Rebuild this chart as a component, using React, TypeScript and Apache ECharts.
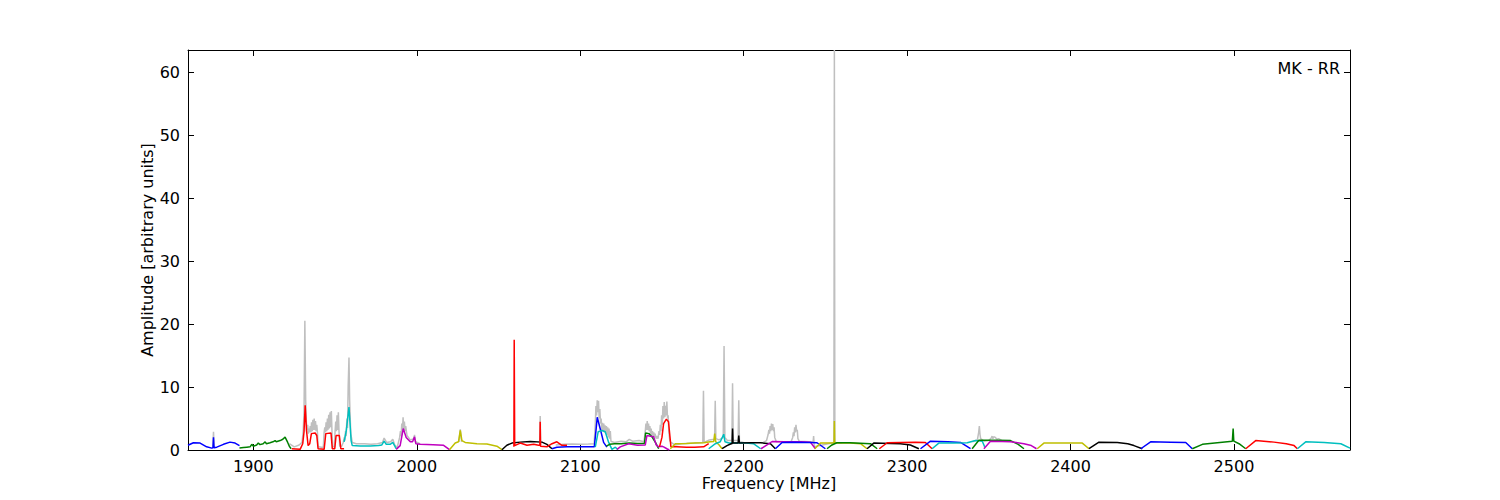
import React, { useEffect, useRef } from "react";
import * as echarts from "echarts";

// ---- data: [frequency MHz, amplitude] ----
const grayA = [[1875.2, 0.4], [1875.6, 2.9], [1876.0, 0.4]];
const grayB = [[1922, 1.0], [1925, 0.5], [1928, 0.8], [1929.8, 1.2], [1930.5, 3.0], [1931, 6], [1931.5, 20.5], [1932, 8], [1932.4, 4.5], [1932.8, 3.2], [1933.2, 4.0], [1933.6, 2.6], [1934, 3.4], [1934.4, 2.8], [1934.8, 3.8], [1935.2, 2.8], [1935.6, 4.4], [1936, 3.0], [1936.4, 4.8], [1936.8, 3.2], [1937.2, 5.0], [1937.6, 3.2], [1938, 4.6], [1938.4, 3.0], [1938.8, 4.0], [1939.2, 2.8], [1939.6, 0.5], [1942.8, 0.4], [1943.3, 2.8], [1943.7, 3.6], [1944.1, 2.8], [1944.5, 4.4], [1944.9, 3.0], [1945.3, 5.0], [1945.7, 3.2], [1946.1, 5.6], [1946.5, 3.4], [1946.9, 6.0], [1947.3, 3.6], [1947.7, 6.2], [1948.1, 3.0], [1948.5, 0.5], [1949.6, 0.5], [1950, 3.0], [1950.4, 4.5], [1950.8, 3.0], [1951.2, 5.5], [1951.6, 3.2], [1952, 6.0], [1952.4, 3.0], [1952.8, 0.6], [1954, 0.6], [1955, 1.2], [1955.6, 2.0], [1956, 1.5], [1956.4, 3.0], [1956.8, 2.2], [1957.2, 5], [1957.6, 3.5], [1958, 10], [1958.5, 14.7], [1958.9, 8], [1959.2, 5.5], [1959.6, 2.5], [1960, 2.0], [1960.5, 1.2], [1963, 1.0], [1968, 1.0], [1972, 0.9], [1976, 1.0], [1979, 1.2], [1980, 1.9], [1981.5, 1.2], [1984, 1.3], [1985.3, 1.7], [1986.5, 0.8], [1988, 0.4], [1989.5, 2.0], [1990, 3.0], [1990.4, 2.2], [1990.8, 4.2], [1991.2, 3.0], [1991.6, 5.2], [1992, 3.2], [1992.4, 4.5], [1992.8, 3.0], [1993.2, 3.8], [1994, 2.3], [1996, 1.6], [1998.2, 1.8], [1998.6, 2.4], [1999.2, 1.3], [2002, 1.0]];
const grayC = [[2025.8, 1.3], [2026.6, 3.3], [2027.4, 1.3]];
const grayD = [[2075.2, 0.8], [2075.5, 5.4], [2075.8, 0.8]];
const grayE = [[2085, 0.8], [2090, 0.9], [2095, 0.95], [2100, 0.9], [2105, 0.95], [2108.5, 1.0], [2109.2, 4], [2109.6, 7.0], [2110, 5.5], [2110.4, 7.9], [2110.8, 6.0], [2111.2, 7.8], [2111.6, 5.0], [2112, 6.5], [2112.4, 4.2], [2112.8, 5.0], [2113.2, 3.2], [2113.6, 4.3], [2114, 3.0], [2114.4, 4.2], [2114.8, 2.8], [2115.2, 3.9], [2115.6, 2.6], [2116, 3.8], [2116.4, 2.4], [2116.8, 3.6], [2117.2, 2.0], [2117.6, 3.4], [2118, 1.8], [2118.4, 3.0], [2118.8, 1.4], [2119.5, 1.3], [2121, 1.2], [2125, 1.4], [2128, 1.3], [2130, 1.7], [2132, 1.4], [2136, 1.5], [2139, 1.3], [2139.8, 3.0], [2140.2, 4.2], [2140.6, 3.2], [2141, 4.6], [2141.4, 3.2], [2141.8, 4.2], [2142.2, 3.0], [2142.6, 3.8], [2143, 2.6], [2143.4, 3.4], [2143.8, 2.4], [2144.2, 3.0], [2144.6, 2.2], [2145, 2.8], [2145.4, 2.0], [2145.8, 2.6], [2146.4, 1.8], [2147, 2.2], [2147.6, 1.8], [2148.2, 3.0], [2148.6, 2.4], [2149, 4.0], [2149.4, 3.0], [2149.8, 5.5], [2150.2, 4.0], [2150.6, 7.0], [2151, 5.0], [2151.4, 7.6], [2151.8, 5.2], [2152.2, 7.0], [2152.6, 5.5], [2153, 7.7], [2153.4, 5.0], [2153.8, 5.5], [2154.2, 3.0], [2154.8, 1.5], [2155.5, 1.2], [2158, 0.8], [2162, 1.0], [2170, 1.1], [2175, 1.2], [2175.4, 9.4], [2175.8, 1.2], [2179, 1.6], [2182.2, 1.7], [2182.6, 7.8], [2183, 1.8], [2185, 1.6], [2187.5, 2.0], [2188, 16.5], [2188.5, 2.0], [2190, 1.5], [2192.8, 1.5], [2193.2, 10.6], [2193.6, 1.5], [2196.6, 1.5], [2197, 7.9], [2197.4, 1.3], [2200, 1.2]];
const grayF = [[2212, 1.2], [2214, 1.5], [2215, 2.5], [2215.4, 3.2], [2215.8, 2.6], [2216.2, 3.8], [2216.6, 3.0], [2217, 4.2], [2217.4, 3.2], [2217.8, 4.1], [2218.2, 3.0], [2218.6, 3.6], [2219, 2.0], [2220, 1.3], [2229, 1.3], [2230, 2.0], [2230.4, 2.8], [2230.8, 2.2], [2231.2, 3.6], [2231.6, 2.8], [2232, 4.0], [2232.4, 3.0], [2232.8, 3.2], [2233.2, 1.8], [2234, 1.4], [2240, 1.3], [2242.5, 1.3], [2242.8, 2.2], [2243.2, 0.5], [2255.2, 1.2], [2255.5, 63.5], [2255.8, 1.2], [2260, 1.1]];
const grayG = [[2340, 1.3], [2343, 1.6], [2343.8, 2.8], [2344.2, 3.8], [2344.6, 2.5], [2345, 1.8], [2347, 1.4], [2350, 1.5], [2351.5, 1.9], [2352, 2.2], [2352.5, 1.8], [2353, 2.1], [2354, 2.0], [2355, 1.7], [2356, 1.8], [2358, 1.5]];

const blue1 = [[1860, 0.75], [1863.3, 1.15], [1867.4, 1.1], [1871.4, 0.5], [1874.5, 0.3], [1875.3, 0.35], [1875.6, 2.0], [1875.9, 0.35], [1877.6, 0.45], [1881.7, 0.9], [1885.7, 1.25], [1888.8, 1.1], [1891.5, 0.7]];
const green1 = [[1891.5, 0.3], [1894, 0.4], [1896, 0.45], [1898, 0.5], [1899, 0.9], [1900, 0.6], [1902, 0.8], [1903, 1.1], [1904, 0.85], [1906, 1.0], [1907.2, 1.3], [1908, 1.0], [1910.2, 1.15], [1912, 1.3], [1913.3, 1.5], [1914, 1.3], [1916.4, 1.5], [1918, 1.7], [1919.4, 2.05], [1921, 1.2], [1922, 0.6], [1923.1, 0.2]];
const red1 = [[1923.5, 0.2], [1928.6, 0.1], [1930.2, 1.0], [1931.0, 2.9], [1931.7, 7.1], [1932.5, 3.1], [1933.5, 0.7], [1934.5, 1.0], [1935.5, 2.6], [1937.8, 2.7], [1938.8, 2.3], [1939.6, 0.2], [1943.3, 0.1], [1944.3, 2.6], [1947.5, 2.7], [1948.3, 0.2], [1949.8, 0.2], [1950.6, 2.3], [1952.6, 2.3], [1953.5, 0.2], [1955.5, 0.2]];
const cyan1 = [[1955.5, 1.3], [1956.8, 3.0], [1958.5, 6.8], [1959.2, 4], [1959.8, 1.5], [1960.5, 0.7], [1965.3, 0.65], [1971.5, 0.65], [1976.6, 0.7], [1978.6, 0.8], [1980, 1.4], [1981.3, 0.9], [1983.7, 0.9], [1985.3, 1.2], [1986.8, 0.5], [1987.4, 0.2]];
const magenta1 = [[1987.4, 0.1], [1989.8, 0.7], [1991.7, 3.4], [1993.5, 2.0], [1996, 1.3], [1997.4, 1.3], [1998.6, 2.1], [1999.4, 1.0], [2002.1, 0.9], [2010, 0.85], [2016.4, 0.75], [2020, 0.05]];
const yellow1 = [[2020, 0.05], [2023.5, 1.1], [2025.5, 1.3], [2026.6, 3.1], [2027.6, 1.5], [2029.6, 1.2], [2036.8, 1.0], [2042.9, 0.95], [2049, 0.6], [2052.1, 0.05]];
const black1 = [[2052.1, 0.05], [2055.1, 0.75], [2058.2, 1.1], [2063.3, 1.25], [2069.4, 1.35], [2076.6, 1.25], [2079.6, 0.9], [2082.7, 0.2]];
const red2 = [[2059.4, 0.5], [2059.6, 17.5], [2059.9, 0.7], [2063.3, 1.1], [2067.4, 0.75], [2071.5, 0.9], [2074.5, 0.75], [2075.3, 0.8], [2075.5, 4.5], [2075.7, 0.6], [2079.6, 0.5], [2082.7, 1.0], [2085.7, 1.3], [2088.8, 0.75], [2091.9, 0.75]];
const blue2 = [[2082.7, 0.2], [2085.7, 0.45], [2091.9, 0.5], [2100, 0.5], [2108.6, 0.5], [2109.6, 3], [2110.4, 5.2], [2112.3, 3.3], [2114.3, 1.2], [2116.3, 0.45]];
const cyan2 = [[2109.2, 0.45], [2111, 2.9], [2113.3, 3.1], [2115.3, 2.9], [2117.4, 1.2], [2119.4, 0.1], [2121.5, 0.45], [2123, 0.05]];
const green2 = [[2116, 0.6], [2118, 0.9], [2121, 1.0], [2125, 1.0], [2130, 1.1], [2135, 1.05], [2139.3, 1.05], [2140, 2.7], [2142, 2.6], [2143.9, 2.1], [2146, 1.2], [2148, 0.2]];
const magenta2 = [[2122.5, 0.1], [2124.5, 0.5], [2129.6, 1.0], [2135, 0.75], [2139.8, 0.8], [2140.8, 2.3], [2143, 2.2], [2144.9, 2.1], [2146.5, 0.8], [2148, 0.5], [2150, 0.6], [2151, 0.5], [2153, 0.2], [2154.5, 0.0]];
const red3 = [[2148.5, 0.5], [2150, 2.0], [2151, 4.2], [2152.7, 4.9], [2154, 4.5], [2155.5, 0.5], [2159, 0.5], [2165, 0.45], [2170, 0.45], [2175.5, 0.5], [2178.6, 1.0]];
const yellow2 = [[2155.1, 0.2], [2158.2, 1.0], [2165, 1.05], [2170, 1.1], [2175.5, 1.15], [2179.6, 1.3], [2181.7, 1.35], [2182.3, 2.6], [2182.9, 1.3], [2185, 0.8], [2186.8, 0.2]];
const cyan3 = [[2178.6, 0.2], [2182.7, 1.0], [2185.7, 1.3], [2187.8, 2.5], [2188.6, 1.3], [2191, 1.1], [2200, 1.15], [2206, 1.0], [2210.4, 0.2]];
const black2 = [[2186.8, 0.2], [2189.8, 0.7], [2192.3, 1.0], [2192.9, 1.0], [2193.2, 3.4], [2193.5, 1.1], [2196.6, 1.1], [2197, 2.3], [2197.4, 1.1], [2205, 1.15], [2210.2, 1.15], [2216.4, 1.0], [2219.4, 0.2]];
const magenta3 = [[2210.6, 0.2], [2214.3, 0.8], [2217.4, 1.35], [2225, 1.3], [2235, 1.3], [2240.8, 1.25], [2243.9, 0.2]];
const blue3 = [[2219.4, 0.2], [2223.5, 1.2], [2230, 1.25], [2240, 1.2], [2244.9, 1.15], [2250, 0.2]];
const yellow3 = [[2243.5, 0.2], [2247, 1.1], [2255.3, 1.1], [2255.5, 4.6], [2255.7, 1.1], [2265, 1.1], [2271.5, 1.0], [2275.5, 0.2]];
const green3 = [[2251, 0.2], [2254, 0.8], [2257, 1.15], [2265, 1.15], [2277.6, 1.0], [2281.7, 0.2]];
const black3 = [[2275.5, 0.2], [2279.6, 1.1], [2290, 1.05], [2295.9, 1.0], [2302, 0.8], [2307.2, 0.2]];
const red4 = [[2283, 0.2], [2287.8, 1.15], [2295.9, 1.2], [2305, 1.25], [2311.2, 1.2], [2315.3, 0.2]];
const blue4 = [[2308.2, 0.2], [2314.3, 1.4], [2325, 1.3], [2332.7, 1.2], [2338.8, 0.2]];
const cyan4 = [[2315.3, 0.2], [2319.4, 1.1], [2328.6, 1.1], [2336.8, 1.15], [2341.9, 1.5], [2346, 1.4], [2347.5, 0.5]];
const green4 = [[2339.8, 0.2], [2343.9, 1.55], [2355, 1.55], [2363.3, 1.5], [2368, 0.9], [2371.5, 0.2]];
const magenta4 = [[2347, 0.2], [2351, 1.4], [2358, 1.35], [2363.3, 1.3], [2371.5, 1.0], [2376, 0.7], [2379.2, 0.2]];
const yellow4 = [[2379.6, 0.2], [2383.7, 1.1], [2395, 1.1], [2407.2, 1.1], [2411.3, 0.2]];
const black4 = [[2411.3, 0.2], [2417.4, 1.25], [2428.6, 1.2], [2435, 1.0], [2438.8, 0.7], [2443.9, 0.2]];
const blue5 = [[2443, 0.2], [2449, 1.3], [2461.3, 1.25], [2470.5, 1.2], [2474.5, 0.2]];
const green5 = [[2474.5, 0.2], [2480.7, 0.9], [2489.8, 1.15], [2499, 1.4], [2499.5, 3.4], [2499.9, 1.4], [2503.1, 1.0], [2507.2, 0.2]];
const red5 = [[2507.2, 0.2], [2513.3, 1.5], [2524.5, 1.25], [2532, 1.0], [2536.8, 0.7], [2538.8, 0.2]];
const cyan5 = [[2538.8, 0.2], [2543.9, 1.3], [2555.2, 1.2], [2565.4, 1.0], [2571, 0.3]];

const grayPieces = [grayA, grayB, grayC, grayD, grayE, grayF, grayG];
const coloredSegments: [string, number[][]][] = [
  ["b", blue1], ["g", green1], ["r", red1], ["c", cyan1], ["m", magenta1], ["y", yellow1],
  ["k", black1], ["r", red2], ["b", blue2], ["c", cyan2], ["g", green2], ["m", magenta2],
  ["r", red3], ["y", yellow2], ["c", cyan3], ["k", black2], ["m", magenta3], ["b", blue3],
  ["y", yellow3], ["g", green3], ["k", black3], ["r", red4], ["b", blue4], ["c", cyan4],
  ["g", green4], ["m", magenta4], ["y", yellow4], ["k", black4], ["b", blue5], ["g", green5],
  ["r", red5], ["c", cyan5],
];
const colorCodes: Record<string, string> = {
  b: "#0000ff", g: "#008000", r: "#ff0000", c: "#00bfbf", m: "#bf00bf", y: "#bfbf00", k: "#000000",
};

const X_MIN = 1860;
const X_MAX = 2571;
const Y_MAX = 63.5;
const FONT = "DejaVu Sans";

export default function App() {
  const ref = useRef<HTMLDivElement>(null);
  useEffect(() => {
    if (!ref.current) return;
    const chart = echarts.init(ref.current, undefined, { renderer: "svg" });
    const series: any[] = [];
    grayPieces.forEach((d) =>
      series.push({
        type: "line", data: d, symbol: "none", silent: true,
        lineStyle: { color: "#bfbfbf", width: 1.5 }, xAxisIndex: 0, yAxisIndex: 0,
      })
    );
    coloredSegments.forEach(([c, d]) =>
      series.push({
        type: "line", data: d, symbol: "none", silent: true,
        lineStyle: { color: colorCodes[c], width: 1.5 }, xAxisIndex: 0, yAxisIndex: 0,
      })
    );
    const lineStyle = { color: "#000", width: 1 };
    const tick = { show: true, inside: true, length: 6, lineStyle };
    chart.setOption({
      animation: false,
      backgroundColor: "#fff",
      grid: { left: 188, right: 150, top: 50, bottom: 50 },
      xAxis: [
        {
          type: "value", min: X_MIN, max: X_MAX, position: "bottom",
          axisLine: { show: true, onZero: false, lineStyle },
          axisTick: tick, splitLine: { show: false },
          axisLabel: {
            show: true, margin: 8, color: "#000", fontFamily: FONT, fontSize: 16,
            showMinLabel: false, showMaxLabel: false,
            formatter: (v: number) => (v % 100 === 0 ? String(v) : ""),
          },
          name: "Frequency [MHz]", nameLocation: "middle", nameGap: 25, nameMoveOverlap: false,
          nameTextStyle: { color: "#000", fontFamily: FONT, fontSize: 16 },
        },
        {
          type: "value", min: X_MIN, max: X_MAX, position: "top",
          axisLine: { show: true, onZero: false, lineStyle },
          axisTick: tick, splitLine: { show: false }, axisLabel: { show: false },
        },
      ],
      yAxis: [
        {
          type: "value", min: 0, max: Y_MAX, interval: 10, position: "left",
          axisLine: { show: true, onZero: false, lineStyle },
          axisTick: tick, splitLine: { show: false },
          axisLabel: {
            show: true, margin: 8, color: "#000", fontFamily: FONT, fontSize: 16,
            showMaxLabel: false,
            formatter: (v: number) => (v % 10 === 0 ? String(v) : ""),
          },
          name: "Amplitude [arbitrary units]", nameLocation: "middle", nameGap: 33, nameMoveOverlap: false,
          nameTextStyle: { color: "#000", fontFamily: FONT, fontSize: 16 },
        },
        {
          type: "value", min: 0, max: Y_MAX, interval: 10, position: "right",
          axisLine: { show: true, onZero: false, lineStyle },
          axisTick: tick, splitLine: { show: false }, axisLabel: { show: false },
        },
      ],
      graphic: [
        {
          type: "text", right: 160, top: 60,
          style: { text: "MK - RR", fill: "#000", font: `16px '${FONT}'` },
        },
      ],
      series,
    });
    return () => chart.dispose();
  }, []);
  return (
    <div
      ref={ref}
      style={{ position: "absolute", left: 0, top: 0, width: 1500, height: 500, background: "#fff" }}
    />
  );
}
